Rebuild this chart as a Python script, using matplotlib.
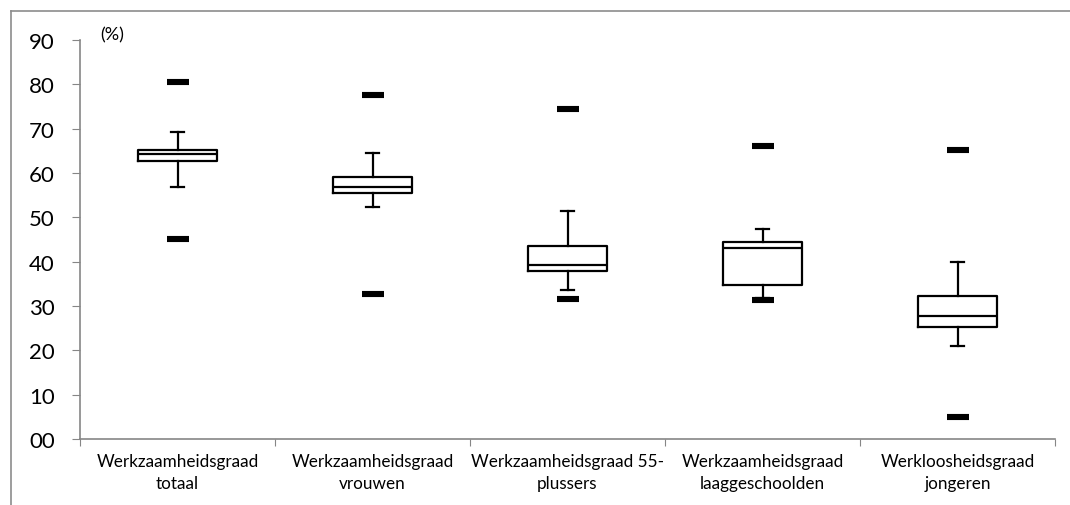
import matplotlib
matplotlib.use("Agg")
import matplotlib.pyplot as plt
from matplotlib.lines import Line2D

categories = ["Werkzaamheidsgraad\ntotaal", "Werkzaamheidsgraad\nvrouwen",
              "Werkzaamheidsgraad 55-\nplussers", "Werkzaamheidsgraad\nlaaggeschoolden",
              "Werkloosheidsgraad\njongeren"]
maxima = [80.5, 77.6, 74.4, 66.2, 65.3]
whisker_high = [69.3, 64.4, 51.4, 47.4, 39.9]
q3 = [65.2, 59.2, 43.5, 44.4, 32.3]
median = [64.3, 56.9, 39.2, 43.1, 27.8]
q1 = [62.6, 55.6, 38.0, 34.8, 25.3]
whisker_low = [56.8, 52.4, 33.5, 31.7, 20.9]
minima = [45.1, 32.7, 31.6, 31.4, 4.9]
yticks = [0, 10, 20, 30, 40, 50, 60, 70, 80, 90]
ytick_labels = ["00", "10", "20", "30", "40", "50", "60", "70", "80", "90"]

plt.rcParams['font.family'] = ['Lato', 'DejaVu Sans']
fig = plt.figure(figsize=(10.7, 5.06), dpi=100)
ax = fig.add_axes([80/1070, 66/506, 975/1070, 399/506])

pos = [i + 0.5 for i in range(len(categories))]
stats = []
for i in range(len(categories)):
    stats.append(dict(med=median[i], q1=q1[i], q3=q3[i],
                      whislo=whisker_low[i], whishi=whisker_high[i], fliers=[]))
lp = dict(color='black', linewidth=1.6)
ax.bxp(stats, positions=pos, widths=0.405, capwidths=0.065, showfliers=False,
       boxprops=lp, medianprops=lp, whiskerprops=lp, capprops=lp,
       manage_ticks=False)
ax.plot(pos, maxima, linestyle='none', marker='_', markersize=15.5,
        markeredgewidth=4.4, color='black', zorder=5)
ax.plot(pos, minima, linestyle='none', marker='_', markersize=15.5,
        markeredgewidth=4.4, color='black', zorder=5)

ax.set_xlim(0, len(categories))
ax.set_ylim(0, 90)
ax.set_yticks(yticks)
ax.set_yticklabels(ytick_labels, fontsize=16)
ax.set_xticks(range(len(categories) + 1))
ax.set_xticklabels([])
ax.set_xticks(pos, minor=True)
ax.set_xticklabels(categories, minor=True, fontsize=12.3, linespacing=1.5)
ax.tick_params(axis='x', which='minor', length=0, pad=10)
ax.tick_params(axis='x', which='major', length=5, color='#868686', direction='out')
ax.tick_params(axis='y', length=6, color='#868686', direction='out', pad=12)
for s in ['top', 'right']:
    ax.spines[s].set_visible(False)
for s in ['left', 'bottom']:
    ax.spines[s].set_color('#868686')
    ax.spines[s].set_linewidth(1.2)

ax.text(100/1070, 1 - 35/506, "(%)", transform=fig.transFigure, fontsize=13,
        va='center', ha='left')

fig.add_artist(Line2D([11/1070, 11/1070], [0, 1 - 11.5/506], transform=fig.transFigure,
                      color='#8c8c8c', linewidth=1.2))
fig.add_artist(Line2D([11/1070, 1], [1 - 11.5/506, 1 - 11.5/506], transform=fig.transFigure,
                      color='#8c8c8c', linewidth=1.2))

fig.savefig("out.png", dpi=100)
